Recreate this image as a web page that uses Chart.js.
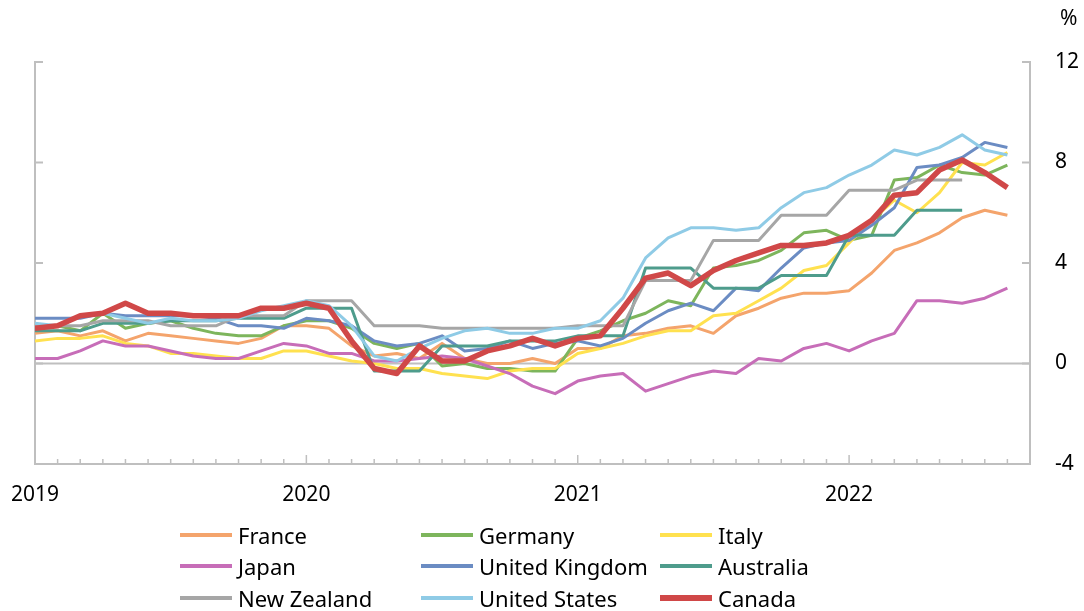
<!DOCTYPE html>
<html>
<head>
<meta charset="utf-8">
<script src="https://cdn.jsdelivr.net/npm/chart.js"></script>
<style>
  body { margin: 0; background: #fff; }
  .wrap { position: relative; width: 1084px; height: 611px; font-family: "Noto Sans", sans-serif; color: #000; }
  .unit { position: absolute; left: 1060px; top: 3px; font-size: 21px; }
  .legendItem { position: absolute; font-size: 22px; line-height: 30px; white-space: nowrap; }
  .legendItem .swatch { position: absolute; left: 0; width: 52px; }
  .legendItem .txt { margin-left: 58px; }
</style>
</head>
<body>
<div class="wrap">
  <canvas id="cpiChart" width="1084" height="611"></canvas>
  <div class="unit">%</div>
  <div id="legend"></div>
</div>

<script>
// Jan 2019 .. Aug 2022, one value per month (Australia / NZ are quarterly, repeated per month)
const yearLabels = ['2019', '2020', '2021', '2022'];
const seriesNames = ['France', 'Germany', 'Italy', 'Japan', 'United Kingdom', 'Australia', 'New Zealand', 'United States', 'Canada'];
const seriesColours = ['#F4A46C', '#7DB55C', '#FFE14F', '#C76DB8', '#6B8CC3', '#4E9C8C', '#A6A6A6', '#8FCBE6', '#D04848'];

const france = [1.2, 1.3, 1.1, 1.3, 0.9, 1.2, 1.1, 1.0, 0.9, 0.8, 1.0, 1.5,
                1.5, 1.4, 0.7, 0.3, 0.4, 0.2, 0.8, 0.2, 0.0, 0.0, 0.2, 0.0,
                0.6, 0.6, 1.1, 1.2, 1.4, 1.5, 1.2, 1.9, 2.2, 2.6, 2.8, 2.8,
                2.9, 3.6, 4.5, 4.8, 5.2, 5.8, 6.1, 5.9];
const germany = [1.4, 1.5, 1.3, 2.0, 1.4, 1.6, 1.7, 1.4, 1.2, 1.1, 1.1, 1.5,
                 1.7, 1.7, 1.4, 0.8, 0.6, 0.8, -0.1, 0.0, -0.2, -0.2, -0.3, -0.3,
                 1.0, 1.3, 1.7, 2.0, 2.5, 2.3, 3.8, 3.9, 4.1, 4.5, 5.2, 5.3,
                 4.9, 5.1, 7.3, 7.4, 7.9, 7.6, 7.5, 7.9];
const italy = [0.9, 1.0, 1.0, 1.1, 0.8, 0.7, 0.4, 0.4, 0.3, 0.2, 0.2, 0.5,
               0.5, 0.3, 0.1, 0.0, -0.2, -0.2, -0.4, -0.5, -0.6, -0.3, -0.2, -0.2,
               0.4, 0.6, 0.8, 1.1, 1.3, 1.3, 1.9, 2.0, 2.5, 3.0, 3.7, 3.9,
               4.8, 5.7, 6.5, 6.0, 6.8, 8.0, 7.9, 8.4];
const japan = [0.2, 0.2, 0.5, 0.9, 0.7, 0.7, 0.5, 0.3, 0.2, 0.2, 0.5, 0.8,
               0.7, 0.4, 0.4, 0.1, 0.1, 0.2, 0.3, 0.2, -0.1, -0.4, -0.9, -1.2,
               -0.7, -0.5, -0.4, -1.1, -0.8, -0.5, -0.3, -0.4, 0.2, 0.1, 0.6, 0.8,
               0.5, 0.9, 1.2, 2.5, 2.5, 2.4, 2.6, 3.0];
const unitedKingdom = [1.8, 1.8, 1.8, 2.0, 1.9, 1.9, 1.9, 1.9, 1.8, 1.5, 1.5, 1.4,
                       1.8, 1.7, 1.5, 0.9, 0.7, 0.8, 1.1, 0.5, 0.6, 0.9, 0.6, 0.8,
                       0.9, 0.7, 1.0, 1.6, 2.1, 2.4, 2.1, 3.0, 2.9, 3.8, 4.6, 4.8,
                       4.9, 5.5, 6.2, 7.8, 7.9, 8.2, 8.8, 8.6];
const australia = [1.3, 1.3, 1.3, 1.6, 1.6, 1.6, 1.7, 1.7, 1.7, 1.8, 1.8, 1.8,
                   2.2, 2.2, 2.2, -0.3, -0.3, -0.3, 0.7, 0.7, 0.7, 0.9, 0.9, 0.9,
                   1.1, 1.1, 1.1, 3.8, 3.8, 3.8, 3.0, 3.0, 3.0, 3.5, 3.5, 3.5,
                   5.1, 5.1, 5.1, 6.1, 6.1, 6.1, null, null];
const newZealand = [1.5, 1.5, 1.5, 1.7, 1.7, 1.7, 1.5, 1.5, 1.5, 1.9, 1.9, 1.9,
                    2.5, 2.5, 2.5, 1.5, 1.5, 1.5, 1.4, 1.4, 1.4, 1.4, 1.4, 1.4,
                    1.5, 1.5, 1.5, 3.3, 3.3, 3.3, 4.9, 4.9, 4.9, 5.9, 5.9, 5.9,
                    6.9, 6.9, 6.9, 7.3, 7.3, 7.3, null, null];
const unitedStates = [1.6, 1.5, 1.9, 2.0, 1.8, 1.6, 1.8, 1.7, 1.7, 1.8, 2.1, 2.3,
                      2.5, 2.3, 1.5, 0.3, 0.1, 0.6, 1.0, 1.3, 1.4, 1.2, 1.2, 1.4,
                      1.4, 1.7, 2.6, 4.2, 5.0, 5.4, 5.4, 5.3, 5.4, 6.2, 6.8, 7.0,
                      7.5, 7.9, 8.5, 8.3, 8.6, 9.1, 8.5, 8.3];
const canada = [1.4, 1.5, 1.9, 2.0, 2.4, 2.0, 2.0, 1.9, 1.9, 1.9, 2.2, 2.2,
                2.4, 2.2, 0.9, -0.2, -0.4, 0.7, 0.1, 0.1, 0.5, 0.7, 1.0, 0.7,
                1.0, 1.1, 2.2, 3.4, 3.6, 3.1, 3.7, 4.1, 4.4, 4.7, 4.7, 4.8,
                5.1, 5.7, 6.7, 6.8, 7.7, 8.1, 7.6, 7.0];

const seriesValues = [france, germany, italy, japan, unitedKingdom, australia, newZealand, unitedStates, canada];
const yTicks = [-4, 0, 4, 8, 12];
const monthCount = 44;   // x axis runs Jan 2019 .. Sep 2022
const axisColour = '#BFBFBF';
const fontFamily = '"Noto Sans", sans-serif';

const datasets = seriesValues.map((vals, i) => ({
  label: seriesNames[i],
  data: vals.map((v, m) => ({x: m, y: v})),
  borderColor: seriesColours[i],
  backgroundColor: seriesColours[i],
  borderWidth: seriesNames[i] === 'Canada' ? 5.5 : 3,
  pointRadius: 0,
  tension: 0,
  spanGaps: false,
  borderJoinStyle: 'round',
  order: seriesValues.length - i
}));

// axes, zero line and inward tick marks
const frame = {
  id: 'frame',
  beforeDatasetsDraw(chart) {
    const {ctx, chartArea: {left, right, top, bottom}, scales: {x, y}} = chart;
    ctx.save();
    ctx.strokeStyle = axisColour;
    ctx.lineWidth = 2;
    function line(x1, y1, x2, y2) {
      ctx.beginPath();
      ctx.moveTo(x1, y1);
      ctx.lineTo(x2, y2);
      ctx.stroke();
    }
    line(left, y.getPixelForValue(0), right, y.getPixelForValue(0));
    line(left, top - 1, left, bottom);
    line(right, top - 1, right, bottom);
    line(left - 1, bottom, right + 1, bottom);
    yTicks.forEach(v => {
      const py = y.getPixelForValue(v);
      line(left, py, left + 8, py);
      line(right - 8, py, right, py);
    });
    ctx.lineWidth = 1.5;
    for (let m = 0; m <= monthCount; m++) {
      const px = x.getPixelForValue(m);
      line(px, bottom, px, bottom - (m % 12 === 0 ? 9 : 5));
    }
    ctx.restore();
  }
};

new Chart(document.getElementById('cpiChart'), {
  type: 'line',
  data: { datasets: datasets },
  options: {
    responsive: false,
    animation: false,
    layout: { padding: { left: 35, top: 62, right: 0, bottom: 0 } },
    plugins: {
      legend: { display: false },
      title: { display: false },
      tooltip: { enabled: false }
    },
    scales: {
      x: {
        type: 'linear',
        position: 'bottom',
        min: 0,
        max: monthCount,
        grid: { display: false, drawTicks: false },
        border: { display: false },
        ticks: {
          stepSize: 12,
          autoSkip: false,
          maxRotation: 0,
          padding: 18,
          color: '#000',
          font: { family: fontFamily, size: 21 },
          callback: v => (v % 12 === 0 && v < monthCount) ? yearLabels[v / 12] : ''
        },
        afterFit(scale) {
          scale.height = 147;
          scale.paddingLeft = 0;
          scale.paddingRight = 0;
        }
      },
      y: {
        position: 'right',
        min: -4,
        max: 12,
        grid: { display: false, drawTicks: false },
        border: { display: false },
        ticks: {
          stepSize: 4,
          padding: 25,
          color: '#000',
          font: { family: fontFamily, size: 21 }
        },
        afterFit(scale) {
          scale.width = 54;
          scale.paddingTop = 0;
          scale.paddingBottom = 0;
        }
      }
    }
  },
  plugins: [frame]
});

// legend, three columns
const legendCols = [180, 421, 660];
const legendRows = [535, 566, 598];
const legendBox = document.getElementById('legend');
seriesNames.forEach((name, i) => {
  const item = document.createElement('div');
  item.className = 'legendItem';
  item.style.left = legendCols[i % 3] + 'px';
  item.style.top = (legendRows[Math.floor(i / 3)] - 15) + 'px';
  const sw = document.createElement('span');
  sw.className = 'swatch';
  const h = name === 'Canada' ? 6 : 4;
  sw.style.height = h + 'px';
  sw.style.top = (15 - h / 2) + 'px';
  sw.style.background = seriesColours[i];
  const txt = document.createElement('span');
  txt.className = 'txt';
  txt.textContent = name;
  item.appendChild(sw);
  item.appendChild(txt);
  legendBox.appendChild(item);
});
</script>
</body>
</html>
